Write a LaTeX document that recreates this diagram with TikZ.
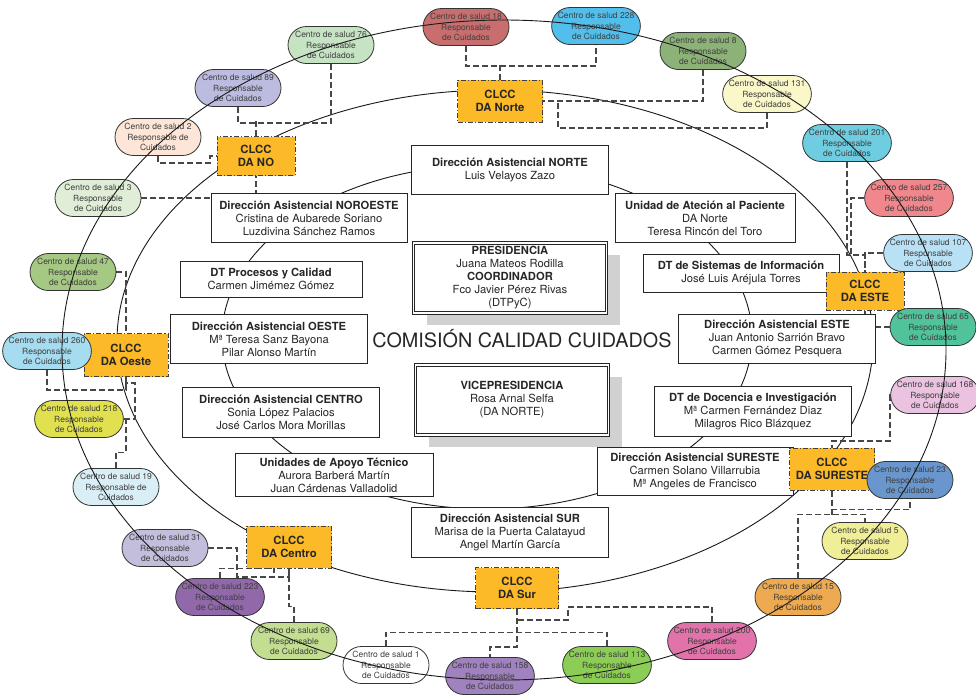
\documentclass[tikz,border=0pt]{standalone}
\usepackage{fontspec}
\setmainfont{TeX Gyre Heros}
\usetikzlibrary{shapes.misc,shadows,backgrounds}

\definecolor{clccnaranja}{HTML}{FCB928}
\definecolor{c18}{HTML}{C86E6E}
\definecolor{c228}{HTML}{52BEEB}
\definecolor{c8}{HTML}{8CB278}
\definecolor{c131}{HTML}{FAF8C8}
\definecolor{c201}{HTML}{6ECDE1}
\definecolor{c257}{HTML}{F0878C}
\definecolor{c107}{HTML}{B9E1F5}
\definecolor{c65}{HTML}{50C39B}
\definecolor{c168}{HTML}{EBC3E1}
\definecolor{c23}{HTML}{6996CD}
\definecolor{c5}{HTML}{F0EE96}
\definecolor{c15}{HTML}{EEAA50}
\definecolor{c200}{HTML}{E173AA}
\definecolor{c113}{HTML}{8CCD55}
\definecolor{c158}{HTML}{A082BE}
\definecolor{c69}{HTML}{C3DE91}
\definecolor{c223}{HTML}{9169AA}
\definecolor{c31}{HTML}{C3BEDC}
\definecolor{c19}{HTML}{DAEEF5}
\definecolor{c218}{HTML}{E1E150}
\definecolor{c260}{HTML}{A5DCF0}
\definecolor{c47}{HTML}{A5C882}
\definecolor{c3}{HTML}{E1EED7}
\definecolor{c2}{HTML}{FDE6D7}
\definecolor{c89}{HTML}{BCBCE1}
\definecolor{c76}{HTML}{C6E4C3}

\begin{document}
\begin{tikzpicture}[
        x=1pt, y=-1pt,
        dirbox/.style={draw=black!85, fill=white, line width=0.9pt, align=center, inner sep=1pt, text=black!85, font=\fontsize{11.2}{13}\selectfont},
        presbox/.style={dirbox, double=white, double distance=1.6pt, drop shadow={shadow xshift=13pt, shadow yshift=-12pt, fill=black!18, opacity=1}},
        clcc/.style={draw=black!75, fill=clccnaranja, line width=1pt, dash pattern=on 5pt off 2pt on 1.2pt off 2pt, align=center, inner sep=1pt, text=black!85, font=\bfseries\fontsize{11.3}{13.3}\selectfont},
        centro/.style={rounded rectangle, draw=black!80, line width=0.8pt, minimum width=86pt, minimum height=37pt, inner sep=0pt, align=center, text=black!75, font=\fontsize{8.5}{10.5}\selectfont},
        conn/.style={draw=black!72, line width=1.2pt, dash pattern=on 6pt off 3pt},
        curva/.style={draw=black!90, line width=0.9pt}
    ]
    \useasboundingbox (0,0) rectangle (976,694);

    % direcciones
    \node[dirbox, minimum width=197pt, minimum height=49pt] (dnorte) at (510,170) {\textbf{Dirección Asistencial NORTE}\\Luis Velayos Zazo};
    \node[dirbox, minimum width=196pt, minimum height=49pt] (dnoroeste) at (309,218) {\textbf{Dirección Asistencial NOROESTE}\\Cristina de Aubarede Soriano\\Luzdivina Sánchez Ramos};
    \node[dirbox, minimum width=180pt, minimum height=49pt] (uap) at (705,218) {\textbf{Unidad de Ateción al Paciente}\\DA Norte\\Teresa Rincón del Toro};
    \node[dirbox, minimum width=182pt, minimum height=36pt] (dtproc) at (271,279) {\textbf{DT Procesos y Calidad}\\Carmen Jimémez Gómez};
    \node[dirbox, minimum width=196pt, minimum height=38pt] (dtsis) at (741,273) {\textbf{DT de Sistemas de Información}\\José Luis Aréjula Torres};
    \node[dirbox, minimum width=197pt, minimum height=49pt] (doeste) at (269,339) {\textbf{Dirección Asistencial OESTE}\\Mª Teresa Sanz Bayona\\Pilar Alonso Martín};
    \node[dirbox, minimum width=197pt, minimum height=49pt] (deste) at (777,339) {\textbf{Dirección Asistencial ESTE}\\Juan Antonio Sarrión Bravo\\Carmen Gómez Pesquera};
    \node[dirbox, minimum width=197pt, minimum height=50pt] (dcentro) at (281,412) {\textbf{Dirección Asistencial CENTRO}\\Sonia López Palacios\\José Carlos Mora Morillas};
    \node[dirbox, minimum width=197pt, minimum height=50pt] (dtdoc) at (753,411) {\textbf{DT de Docencia e Investigación}\\Mª Carmen Fernández Diaz\\Milagros Rico Blázquez};
    \node[dirbox, minimum width=198pt, minimum height=43pt] (uat) at (334,475) {\textbf{Unidades de Apoyo Técnico}\\Aurora Barberá Martín\\Juan Cárdenas Valladolid};
    \node[dirbox, minimum width=196pt, minimum height=48pt] (dsureste) at (695,471) {\textbf{Dirección Asistencial SURESTE}\\Carmen Solano Villarrubia\\Mª Angeles de Francisco};
    \node[dirbox, minimum width=197pt, minimum height=50pt] (dsur) at (510,532) {\textbf{Dirección Asistencial SUR}\\Marisa de la Puerta Calatayud\\Angel Martín García};

    \node[presbox, minimum width=193pt, minimum height=70pt] (pres) at (510,278) {\textbf{PRESIDENCIA}\\Juana Mateos Rodilla\\\textbf{COORDINADOR}\\Fco Javier Pérez Rivas\\(DTPyC)};
    \node[presbox, minimum width=193pt, minimum height=70pt] (vice) at (512,400) {\textbf{VICEPRESIDENCIA}\\Rosa Arnal Selfa\\(DA NORTE)};
    \node[text=black!85, font=\fontsize{19.8}{22}\selectfont] (titulo) at (522,339) {COMISIÓN CALIDAD CUIDADOS};

    % CLCC
    \node[clcc, minimum width=85pt, minimum height=42pt] (cnorte) at (500,101) {CLCC\\DA Norte};
    \node[clcc, minimum width=78pt, minimum height=39pt] (cno) at (256,156) {CLCC\\DA NO};
    \node[clcc, minimum width=84pt, minimum height=43pt] (coeste) at (126,355) {CLCC\\DA Oeste};
    \node[clcc, minimum width=78pt, minimum height=38pt] (ceste) at (865,291) {CLCC\\DA ESTE};
    \node[clcc, minimum width=85pt, minimum height=42pt] (csureste) at (832,469) {CLCC\\DA SURESTE};
    \node[clcc, minimum width=85pt, minimum height=42pt] (ccentro) at (289,547) {CLCC\\DA Centro};
    \node[clcc, minimum width=83pt, minimum height=41pt] (csur) at (517,588) {CLCC\\DA Sur};

    % centros de salud
    \node[centro, fill=c18] (cs18) at (466,27) {Centro de salud 18\\Responsable\\de Cuidados};
    \node[centro, fill=c228] (cs228) at (596,26) {Centro de salud 228\\Responsable\\de Cuidados};
    \node[centro, fill=c8] (cs8) at (703,51) {Centro de salud 8\\Responsable\\de Cuidados};
    \node[centro, fill=c131] (cs131) at (767,94) {Centro de salud 131\\Responsable\\de Cuidados};
    \node[centro, fill=c201] (cs201) at (847,143) {Centro de salud 201\\Responsable\\de Cuidados};
    \node[centro, fill=c257] (cs257) at (909,198) {Centro de salud 257\\Responsable\\de Cuidados};
    \node[centro, fill=c107] (cs107) at (928,253) {Centro de salud 107\\Responsable\\de Cuidados};
    \node[centro, fill=c65] (cs65) at (933,327) {Centro de salud 65\\Responsable\\de Cuidados};
    \node[centro, fill=c168] (cs168) at (935,395) {Centro de salud 168\\Responsable\\de Cuidados};
    \node[centro, fill=c23] (cs23) at (910,480) {Centro de salud 23\\Responsable\\de Cuidados};
    \node[centro, fill=c5] (cs5) at (865,541) {Centro de salud 5\\Responsable\\de Cuidados};
    \node[centro, fill=c15] (cs15) at (798,597) {Centro de salud 15\\Responsable\\de Cuidados};
    \node[centro, fill=c200] (cs200) at (712,641) {Centro de salud 200\\Responsable\\de Cuidados};
    \node[centro, fill=c113] (cs113) at (607,665) {Centro de salud 113\\Responsable\\de Cuidados};
    \node[centro, fill=c158] (cs158) at (490,676) {Centro de salud 158\\Responsable\\de Cuidados};
    \node[centro, fill=white] (cs1) at (386,665) {Centro de salud 1\\Responsable\\de Cuidados};
    \node[centro, fill=c69] (cs69) at (294,641) {Centro de salud 69\\Responsable\\de Cuidados};
    \node[centro, fill=c223] (cs223) at (220,597) {Centro de salud 223\\Responsable\\de Cuidados};
    \node[centro, fill=c31] (cs31) at (165,548) {Centro de salud 31\\Responsable\\de Cuidados};
    \node[centro, fill=c19] (cs19) at (116,487) {Centro de salud 19\\Responsable de\\Cuidados};
    \node[centro, fill=c218] (cs218) at (79,419) {Centro de salud 218\\Responsable\\de Cuidados};
    \node[centro, fill=c260] (cs260) at (47,351) {Centro de salud 260\\Responsable\\de Cuidados};
    \node[centro, fill=c47] (cs47) at (73,272) {Centro de salud 47\\Responsable\\de Cuidados};
    \node[centro, fill=c3] (cs3) at (98,198) {Centro de salud 3\\Responsable\\de Cuidados};
    \node[centro, fill=c2] (cs2) at (158,137) {Centro de salud 2\\Responsable de\\Cuidados};
    \node[centro, fill=c89] (cs89) at (238,88) {Centro de salud 89\\Responsable\\de Cuidados};
    \node[centro, fill=c76] (cs76) at (331,45) {Centro de salud 76\\Responsable\\de Cuidados};

    \begin{scope}[on background layer]
        \draw[curva] (487,337) ellipse [x radius=265, y radius=172];
        \draw[curva] (495,341) ellipse [x radius=378, y radius=251];

        % DA NO
        \draw[conn] (cs89.south) -- ++(0,16) -| (cs76.south);
        \draw[conn] (cno.north) -- ++(0,-15);
        \draw[conn] (cs2.south) |- (210,163) |- (cno.west);
        \draw[conn] (cs3.east) -| (cno.south);
        % DA Norte
        \draw[conn] (cs18.south) -- ++(0,20) -| (cs228.south);
        \draw[conn] (cnorte.north) -- ++(0,-15);
        \draw[conn] (cs8.south) |- (cnorte.east);
        \draw[conn] (cs131.south) -- ++(0,15) -| (558,101);
        % DA ESTE
        \draw[conn] (cs201.south) -- (847,255) -| (ceste.north);
        \draw[conn] (cs257.west) -| (851,255);
        \draw[conn] (cs107.west) -| (ceste.north);
        \draw[conn] (cs65.west) -| (ceste.south);
        % DA SURESTE
        \draw[conn] (cs168.west) -| (890,441) -| (csureste.north);
        \draw[conn] (csureste.south) -- ++(0,19) -| (cs23.south);
        \draw[conn] (csureste.south) -- ++(0,24);
        \draw[conn] (cs15.north) -- ++(0,-64) -| (cs5.north);
        % DA Sur
        \draw[conn] (csur.south) -- ++(0,38) -| (cs158.north);
        \draw[conn] (cs200.north) |- (568,607) |- (csur.south |- 0,620);
        \draw[conn] (cs1.north) -- ++(0,-14) -| (cs113.north);
        % DA Centro
        \draw[conn] (cs31.east) -| (237,577) -| (ccentro.south);
        \draw[conn] (cs223.north) -- ++(0,-10) -| (274,577);
        \draw[conn] (cs69.north) -- ++(0,-16) -| (ccentro.south);
        % DA Oeste
        \draw[conn] (cs47.east) -| (coeste.north);
        \draw[conn] (cs260.south) -- ++(0,20) -| (coeste.south);
        \draw[conn] (cs218.east) -| (135,383) -| (coeste.south);
        \draw[conn] (cs19.north) -- ++(0,-16) -| (126,419);
    \end{scope}

    \draw[curva] (504,350) ellipse [x radius=442, y radius=330];
\end{tikzpicture}
\end{document}
